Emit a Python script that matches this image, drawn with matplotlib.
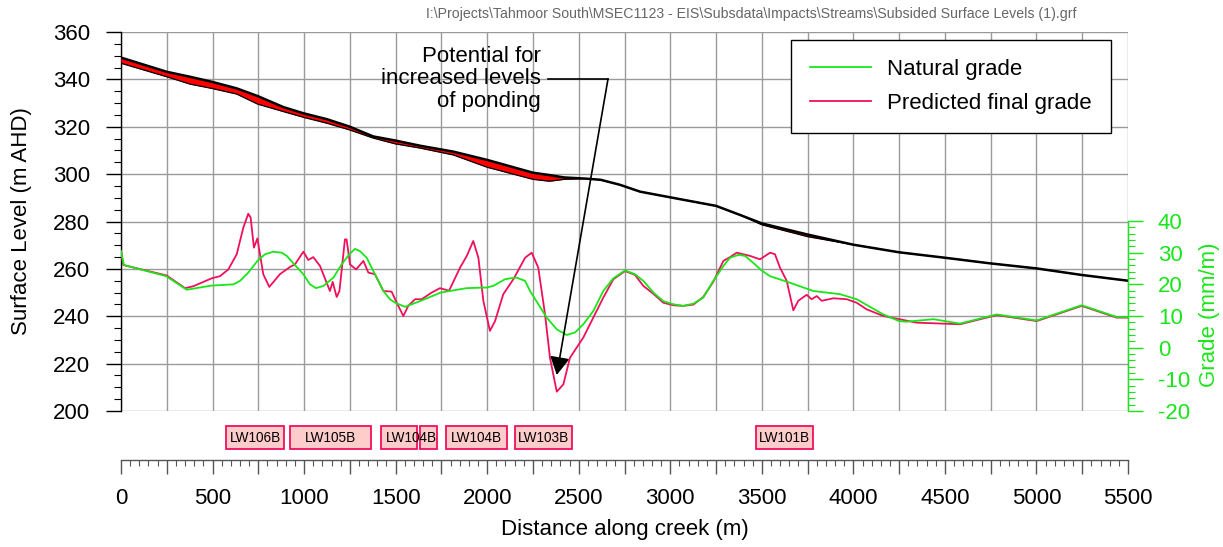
import matplotlib
matplotlib.use("Agg")
import matplotlib.pyplot as plt
from matplotlib.ticker import MultipleLocator, FuncFormatter, FixedLocator
from matplotlib.patches import Rectangle
import matplotlib.transforms as mtransforms

plt.rcParams['font.family'] = ['Liberation Sans', 'DejaVu Sans']
plt.rcParams['axes.unicode_minus'] = False

# ---------------- data ----------------
surf_x = [0, 250, 377, 495, 632, 745, 887, 996, 1124, 1247, 1378, 1497, 1633, 1815, 2000,
          2250, 2340, 2420, 2540, 2620, 2725, 2835, 3000, 3250, 3380, 3500, 3750, 4000,
          4250, 4500, 4750, 5000, 5250, 5500]
natural_surface = [349.2, 343.2, 341.1, 339.0, 336.2, 333.0, 328.3, 325.7, 323.2, 320.1, 315.9,
                   314.2, 312.0, 309.5, 306.0, 300.6, 299.6, 298.6, 298.1, 297.6, 295.5, 292.6,
                   290.2, 286.6, 282.8, 279.2, 274.5, 270.2, 267.0, 264.7, 262.3, 260.2, 257.4, 255.0]
subsided_surface = [346.8, 341.1, 338.0, 336.2, 333.8, 329.6, 326.4, 324.0, 321.5, 318.7, 315.2,
                    312.8, 311.0, 308.1, 302.9, 297.8, 297.0, 297.8, 298.1, 297.6, 295.5, 292.6,
                    290.2, 286.6, 282.8, 278.6, 273.6, 270.2, 267.0, 264.7, 262.3, 260.2, 257.4, 255.0]

nat_x = [0, 16, 246, 359, 493, 614, 650, 695, 745, 786, 832, 877, 905, 950, 996, 1032, 1065,
         1105, 1160, 1205, 1247, 1278, 1305, 1342, 1387, 1433, 1469, 1497, 1551, 1588, 1633,
         1746, 1815, 1888, 1997, 2033, 2097, 2125, 2161, 2207, 2234, 2325, 2380, 2434, 2480,
         2525, 2580, 2634, 2689, 2753, 2807, 2853, 2908, 2962, 3017, 3071, 3126, 3180, 3235,
         3290, 3326, 3372, 3408, 3453, 3499, 3544, 3654, 3781, 3927, 4018, 4164, 4250,
         4291, 4437, 4582, 4782, 5001, 5247, 5438, 5500]
natural_grade = [30.5, 26.1, 22.6, 18.3, 19.6, 20.0, 21.1, 23.7, 27.4, 29.5, 30.3, 30.0, 29.0,
                 26.1, 23.2, 20.0, 18.8, 19.5, 22.1, 26.3, 29.5, 31.2, 30.5, 28.4, 23.2, 17.9,
                 15.3, 14.2, 12.9, 13.7, 14.7, 17.4, 18.1, 18.8, 19.0, 19.5, 21.6, 21.9, 22.1,
                 21.1, 17.9, 9.5, 5.8, 4.0, 4.8, 7.4, 11.6, 17.9, 21.9, 24.4, 23.2, 21.1, 17.4,
                 14.7, 13.7, 13.2, 13.9, 15.8, 21.1, 25.8, 28.4, 29.3, 29.0, 26.8, 24.4, 22.6,
                 20.5, 17.9, 16.9, 15.3, 10.5, 8.4, 8.2, 9.0, 7.6, 10.5, 8.6, 13.4, 9.7, 9.7]

pred_x = [0, 13, 249, 350, 395, 495, 541, 586, 632, 668, 695, 708, 726, 745, 777, 810, 868,
          923, 950, 996, 1023, 1050, 1087, 1141, 1156, 1178, 1193, 1223, 1232, 1251, 1284,
          1324, 1351, 1387, 1433, 1478, 1506, 1542, 1569, 1606, 1642, 1697, 1742, 1792, 1852,
          1888, 1924, 1952, 1979, 2015, 2043, 2088, 2143, 2207, 2243, 2279, 2316, 2343, 2380,
          2416, 2452, 2525, 2634, 2689, 2753, 2807, 2853, 2908, 2962, 3017, 3071, 3126, 3180,
          3235, 3290, 3326, 3363, 3435, 3490, 3545, 3572, 3599, 3636, 3672, 3699, 3745, 3772,
          3800, 3827, 3891, 3964, 4018, 4073, 4164, 4346, 4583, 4783, 5001, 5247, 5438, 5500]
predicted_grade = [30.5, 26.1, 22.8, 18.8, 19.4, 21.9, 22.6, 24.7, 29.5, 37.9, 42.3, 41.1, 31.6,
                   34.5, 23.2, 19.2, 23.2, 25.5, 26.3, 30.3, 27.7, 28.6, 25.8, 17.9, 20.8, 16.0,
                   17.9, 34.2, 34.2, 26.3, 24.7, 27.4, 23.7, 23.2, 17.9, 17.7, 14.2, 10.0, 13.2,
                   15.3, 15.3, 17.4, 18.8, 18.0, 25.3, 28.9, 33.7, 28.4, 14.8, 5.3, 8.4, 16.9,
                   21.6, 28.4, 30.0, 25.3, 10.5, -3.2, -13.9, -11.6, -3.2, 3.2, 15.8, 21.6, 24.2,
                   23.0, 19.5, 17.0, 14.2, 13.4, 13.2, 13.6, 16.0, 20.8, 27.4, 28.6, 30.0, 29.0,
                   27.9, 30.0, 29.5, 25.3, 21.1, 11.8, 14.8, 16.7, 15.3, 16.3, 14.8, 15.6, 15.3,
                   14.2, 12.1, 10.0, 7.9, 7.4, 10.3, 8.4, 13.2, 9.5, 9.5]

panel_labels = ['LW106B', 'LW105B', 'LW104B', '', 'LW104B', 'LW103B', 'LW101B']
panel_start = [575, 925, 1420, 1635, 1775, 2150, 3470]
panel_end = [890, 1365, 1615, 1725, 2110, 2465, 3780]

x_ticks = list(range(0, 5501, 500))
left_ticks = list(range(200, 361, 20))
right_ticks = list(range(-20, 41, 10))
right_minor = list(range(-20, 41, 2))

# ---------------- style ----------------
GREEN = '#19e619'
PINK = '#f0105a'
GRID = '#9a9a9a'
FS = 16

fig = plt.figure(figsize=(12.23, 5.47), dpi=100)
ax = fig.add_axes([121 / 1223, 1 - 411 / 547, 1007 / 1223, 379 / 547])

ax.set_xlim(0, 5500)
ax.set_ylim(200, 360)

ax.fill_between(surf_x, subsided_surface, natural_surface, color='#ff0000', lw=0, zorder=3)
ax.plot(surf_x, subsided_surface, color='black', lw=0.9, zorder=4)
ax.plot(surf_x, natural_surface, color='black', lw=1.8, zorder=5)

# grid
ax.xaxis.set_major_locator(MultipleLocator(250))
ax.xaxis.set_minor_locator(MultipleLocator(50))
ax.set_yticks(left_ticks)
ax.yaxis.set_minor_locator(MultipleLocator(5))
ax.grid(True, which='major', color=GRID, lw=1.0, zorder=0)
ax.set_axisbelow(True)

ax.xaxis.set_major_formatter(FuncFormatter(lambda v, p: f"{int(v)}" if int(v) in x_ticks else ""))
for s in ['top', 'right']:
    ax.spines[s].set_visible(False)
ax.spines['bottom'].set_position(('outward', 35.3))
ax.spines['bottom'].set_color('#555555')
ax.spines['bottom'].set_linewidth(1.0)
ax.spines['left'].set_linewidth(1.0)
ax.tick_params(axis='x', which='major', direction='out', length=10, width=1, color='#555555',
               labelsize=FS, pad=10)
ax.tick_params(axis='x', which='minor', direction='out', length=4.5, width=0.8, color='#555555')
ax.tick_params(axis='y', which='major', direction='out', length=10.5, width=1, labelsize=FS, pad=12)
ax.tick_params(axis='y', which='minor', direction='out', length=5, width=0.8)
ax.set_xlabel('Distance along creek (m)', fontsize=FS, labelpad=7)
ax.set_ylabel('Surface Level (m AHD)', fontsize=FS)
ax.yaxis.set_label_coords(-0.0884, 0.5)

# right axis
ax2 = ax.twinx()
ax2.set_ylim(-20, 99.7)
ax2.plot(nat_x, natural_grade, color=GREEN, lw=1.3, label='Natural grade', zorder=3)
ax2.plot(pred_x, predicted_grade, color=PINK, lw=1.3, label='Predicted final grade', zorder=2)
ax2.yaxis.set_major_locator(FixedLocator(right_ticks))
ax2.yaxis.set_minor_locator(FixedLocator(right_minor))
for s in ['top', 'left', 'bottom']:
    ax2.spines[s].set_visible(False)
ax2.spines['right'].set_bounds(-20, 40)
ax2.spines['right'].set_color(GREEN)
ax2.spines['right'].set_linewidth(1.0)
ax2.tick_params(axis='y', which='major', direction='out', length=10.5, width=1, color=GREEN,
                labelcolor=GREEN, labelsize=FS, pad=11)
ax2.tick_params(axis='y', which='minor', direction='out', length=5, width=0.8, color=GREEN)
ax2.set_ylabel('Grade (mm/m)', fontsize=FS, color=GREEN)
ax2.yaxis.set_label_coords(1.0705, 0.253)

leg = ax2.legend(loc='upper right', bbox_to_anchor=(0.983, 0.979), fontsize=FS,
                 frameon=True, fancybox=False, edgecolor='black', framealpha=1,
                 handlelength=2.75, handletextpad=0.75, labelspacing=0.6,
                 borderpad=0.85, borderaxespad=0)
leg.get_frame().set_linewidth(1.0)

# longwall panel boxes
trans = mtransforms.blended_transform_factory(ax.transData, ax.transAxes)
for lab, x0, x1 in zip(panel_labels, panel_start, panel_end):
    r = Rectangle((x0, -0.101), x1 - x0, 0.0614, transform=trans, facecolor='#ffcccc',
                  edgecolor=PINK, lw=1.3, clip_on=False, zorder=5)
    ax.add_patch(r)
for lab, x0, x1 in zip(panel_labels, panel_start, panel_end):
    if lab:
        cx = (x0 + x1) / 2
        if x1 - x0 < 250:
            cx = x0 + 0.55 * (panel_end[3] - x0)
        ax.text(cx, -0.070, lab, transform=trans, ha='center', va='center',
                fontsize=9.8, zorder=6, clip_on=False)

# annotation
ax2.text(2294, 340.2, 'Potential for\nincreased levels\nof ponding', transform=ax.transData,
         ha='right', va='center', multialignment='right', fontsize=FS, linespacing=1.1,
         zorder=10)
ax2.plot([2332, 2660], [340.2, 340.2], transform=ax.transData, color='black', lw=1.2, zorder=10)
ax2.annotate('', xy=(2380, 215.2), xycoords=ax.transData, xytext=(2660, 340.2),
             textcoords=ax.transData,
             arrowprops=dict(arrowstyle='-|>,head_length=0.55,head_width=0.3', color='black',
                             lw=1.2, shrinkA=0, shrinkB=0, mutation_scale=20), zorder=10)

fig.text(0.6145, 0.974,
         r'I:\Projects\Tahmoor South\MSEC1123 - EIS\Subsdata\Impacts\Streams\Subsided Surface Levels (1).grf',
         ha='center', va='center', fontsize=10.2, color='#666666')

fig.savefig('out.png', dpi=100)
